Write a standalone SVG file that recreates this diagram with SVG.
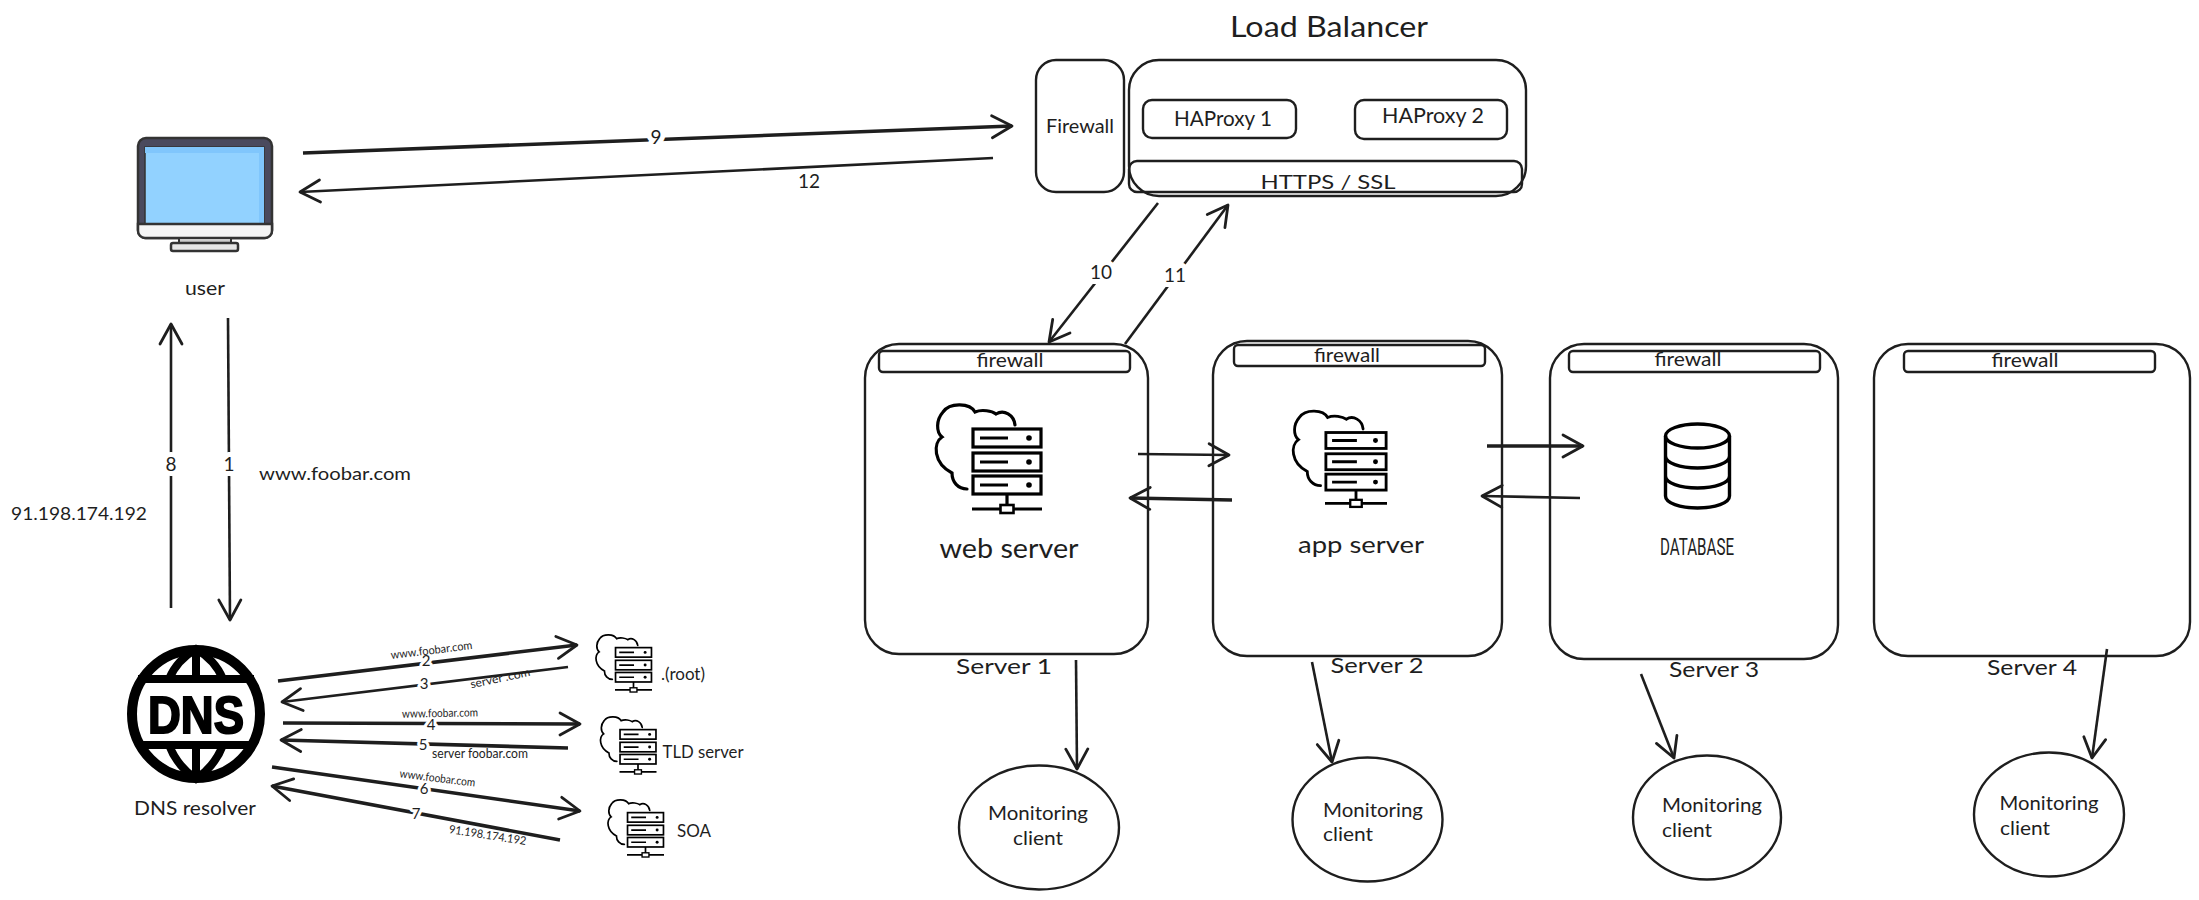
<svg xmlns="http://www.w3.org/2000/svg" width="2199" height="900" viewBox="0 0 2199 900">
<style>
text{font-family:"Lato","Noto Sans","Liberation Sans",sans-serif;fill:#1e1e1e;text-anchor:middle}
.box{fill:none;stroke:#1e1e1e;stroke-width:2.4}
.c{fill:none;stroke:#1e1e1e;stroke-width:2.6;marker-end:url(#a)}
.t{stroke:#1e1e1e;stroke-width:3.6;fill:none;marker-end:url(#a)}
.n{font-size:19px;paint-order:stroke;stroke:#fff;stroke-width:10px;stroke-linejoin:round}
.s{font-size:11.5px}
.m{font-size:20px}
.f{font-size:19px}
.ic{fill:none;stroke:#000;stroke-width:3.2}
</style>
<defs>
<marker id="a" markerUnits="userSpaceOnUse" markerWidth="40" markerHeight="40" refX="24" refY="20" orient="auto" viewBox="0 0 40 40">
<path d="M4,9 L24,20 L4,31" fill="none" stroke="#1e1e1e" stroke-width="2.8" stroke-linecap="round" stroke-linejoin="round"/>
</marker>
<symbol id="srv" overflow="visible" viewBox="0 0 70 81" width="70" height="81">
<path class="ic" stroke-linecap="round" d="M43,-3 C42,-13 32,-19 24,-14 C20,-17 10,-19 3,-16 C-2,-25 -22,-26 -29,-16 C-36,-8 -36,4 -30,9 C-39,15 -39,35 -20,45 C-20,54 -14,61 -5,61"/>
<rect class="ic" x="1" y="1" width="68" height="18"/><rect class="ic" x="1" y="25" width="68" height="18"/><rect class="ic" x="1" y="48" width="68" height="18"/>
<path class="ic" d="M8,10H36M8,34H36M8,57H36M35,66V81M0,81H70"/>
<circle cx="57" cy="10" r="2.8"/><circle cx="57" cy="34" r="2.8"/><circle cx="57" cy="57" r="2.8"/>
<rect x="28.500" y="77" width="13" height="8" fill="#fff" stroke="#000" stroke-width="2.600"/>
</symbol>
</defs>
<rect width="2199" height="900" fill="#fff"/>

<g id="user">
<rect x="138" y="138" width="134" height="100" rx="8" fill="#4a4a5e" stroke="#333" stroke-width="2.500"/>
<rect x="145" y="147" width="119" height="77" fill="#92d2ff" stroke="#333" stroke-width="1.500"/>
<path d="M259,147H264V223H259ZM145,147H259V153H145Z" fill="#80c6fc"/>
<path d="M138,224H272V231a7,7 0 0 1 -7,7H145a7,7 0 0 1 -7,-7Z" fill="#f5f5f5" stroke="#333" stroke-width="2.500"/>
<rect x="179" y="238" width="52" height="5" fill="#ccc" stroke="#333" stroke-width="2"/>
<rect x="171" y="243" width="67" height="8" rx="2" fill="#e6e6e6" stroke="#333" stroke-width="2.500"/>
<text x="205" y="295" font-size="20" textLength="40" lengthAdjust="spacingAndGlyphs">user</text>
</g>

<g id="dns-resolver">
<circle cx="196" cy="714" r="64" fill="#fff" stroke="#000" stroke-width="10"/>
<path d="M138,679H254M138,745H254M196,649V679M196,745V779M169,679Q177,660 196,649Q215,660 223,679M169,745Q177,766 196,779Q215,766 223,745" fill="none" stroke="#000" stroke-width="8"/>
<text x="196" y="733" font-size="52" font-weight="700" style="font-family:'Liberation Sans',sans-serif;fill:#000;stroke:#000;stroke-width:2px" textLength="96" lengthAdjust="spacingAndGlyphs">DNS</text>
<text x="195" y="815" font-size="20" textLength="122" lengthAdjust="spacingAndGlyphs">DNS resolver</text>
</g>

<g id="root-server"><use href="#srv" x="615" y="647" width="37" height="43"/><text x="683" y="680" font-size="17">.(root)</text></g>
<g id="tld-server"><use href="#srv" x="619.500" y="729" width="37" height="43"/><text x="703" y="758" font-size="17" textLength="81" lengthAdjust="spacingAndGlyphs">TLD server</text></g>
<g id="soa-server"><use href="#srv" x="627" y="812" width="37" height="43"/><text x="694" y="837" font-size="17">SOA</text></g>

<g id="load-balancer">
<text x="1329" y="37" font-size="29" textLength="198" lengthAdjust="spacingAndGlyphs">Load Balancer</text>
<rect class="box" x="1129" y="60" width="397" height="136" rx="30"/>
<rect class="box" x="1143" y="100" width="153" height="38" rx="9"/>
<text x="1223" y="126" font-size="21" textLength="98" lengthAdjust="spacingAndGlyphs">HAProxy 1</text>
<rect class="box" x="1355" y="100" width="152" height="39" rx="9"/>
<text x="1433" y="123" font-size="21" textLength="102" lengthAdjust="spacingAndGlyphs">HAProxy 2</text>
<rect class="box" x="1129" y="161" width="393" height="31" rx="8"/>
<text x="1328" y="189" font-size="20" textLength="135" lengthAdjust="spacingAndGlyphs">HTTPS / SSL</text>
</g>
<g id="firewall"><rect class="box" x="1036" y="60" width="88" height="132" rx="20"/><text x="1080" y="133" font-size="19" textLength="68" lengthAdjust="spacingAndGlyphs">Firewall</text></g>

<g id="server-1">
<rect class="box" x="865" y="344" width="283" height="310" rx="34"/>
<rect class="box" x="879" y="351" width="251" height="21" rx="4"/>
<text class="f" x="1010" y="367" textLength="67" lengthAdjust="spacingAndGlyphs">firewall</text>
<use href="#srv" x="972" y="428" width="70" height="81"/>
<text x="1009" y="558" font-size="26" textLength="139" lengthAdjust="spacingAndGlyphs">web server</text>
<text x="1004" y="674" font-size="22" textLength="96" lengthAdjust="spacingAndGlyphs">Server 1</text>
</g>
<g id="server-2">
<rect class="box" x="1213" y="341" width="289" height="315" rx="34"/>
<rect class="box" x="1234" y="345" width="251" height="21" rx="4"/>
<text class="f" x="1347" y="362" textLength="66" lengthAdjust="spacingAndGlyphs">firewall</text>
<use href="#srv" x="1325" y="431" width="62" height="73"/>
<text x="1361" y="553" font-size="24" textLength="126" lengthAdjust="spacingAndGlyphs">app server</text>
<text x="1377" y="673" font-size="22" textLength="93" lengthAdjust="spacingAndGlyphs">Server 2</text>
</g>
<g id="server-3">
<rect class="box" x="1550" y="344" width="288" height="315" rx="34"/>
<rect class="box" x="1569" y="351" width="251" height="21" rx="4"/>
<text class="f" x="1688" y="366" textLength="67" lengthAdjust="spacingAndGlyphs">firewall</text>
<g fill="none" stroke="#000" stroke-width="3.400">
<ellipse cx="1697.500" cy="436" rx="32" ry="12"/>
<path d="M1665.500,436V496C1665.500,503 1680,508 1697.500,508C1715,508 1729.500,503 1729.500,496V436M1665.500,456C1665.500,463 1680,468 1697.500,468C1715,468 1729.500,463 1729.500,456M1665.500,476C1665.500,483 1680,488 1697.500,488C1715,488 1729.500,483 1729.500,476"/>
</g>
<text x="1697" y="555" font-size="23" style="font-family:'Roboto',sans-serif" textLength="74" lengthAdjust="spacingAndGlyphs">DATABASE</text>
<text x="1714" y="677" font-size="22" textLength="90" lengthAdjust="spacingAndGlyphs">Server 3</text>
</g>
<g id="server-4">
<rect class="box" x="1874" y="344" width="316" height="312" rx="34"/>
<rect class="box" x="1904" y="351" width="251" height="21" rx="4"/>
<text class="f" x="2025" y="367" textLength="67" lengthAdjust="spacingAndGlyphs">firewall</text>
<text x="2032" y="675" font-size="22" textLength="90" lengthAdjust="spacingAndGlyphs">Server 4</text>
</g>

<g id="monitoring-1"><ellipse class="box" cx="1039" cy="827.500" rx="80" ry="62" stroke-width="3"/><text class="m" x="1038" y="820" textLength="100" lengthAdjust="spacingAndGlyphs">Monitoring</text><text class="m" x="1038" y="845" textLength="50" lengthAdjust="spacingAndGlyphs">client</text></g>
<g id="monitoring-2"><ellipse class="box" cx="1367.500" cy="819.500" rx="75" ry="62"/><text class="m" x="1373" y="817" textLength="100" lengthAdjust="spacingAndGlyphs">Monitoring</text><text class="m" x="1348" y="841" textLength="50" lengthAdjust="spacingAndGlyphs">client</text></g>
<g id="monitoring-3"><ellipse class="box" cx="1707" cy="817.500" rx="74" ry="62"/><text class="m" x="1712" y="812" textLength="100" lengthAdjust="spacingAndGlyphs">Monitoring</text><text class="m" x="1687" y="837" textLength="50" lengthAdjust="spacingAndGlyphs">client</text></g>
<g id="monitoring-4"><ellipse class="box" cx="2049" cy="814.500" rx="75" ry="62"/><text class="m" x="2049" y="810" textLength="99" lengthAdjust="spacingAndGlyphs">Monitoring</text><text class="m" x="2025" y="835" textLength="50" lengthAdjust="spacingAndGlyphs">client</text></g>

<g id="connectors">
<path class="t" d="M303,153L1012,126"/>
<text class="n" x="656" y="144">9</text>
<path class="c" d="M993,158L300,192"/>
<text x="809" y="188" font-size="19">12</text>
<path class="c" d="M1158,203L1049,342"/>
<text class="n" x="1101" y="279">10</text>
<path class="c" d="M1125,344L1228,205"/>
<text class="n" x="1175" y="282">11</text>

<path class="c" d="M171,608V324"/>
<text class="n" x="171" y="471">8</text>
<path class="c" d="M228,318L230,620"/>
<text class="n" x="229" y="471">1</text>
<text x="335" y="480" font-size="16.500" textLength="152" lengthAdjust="spacingAndGlyphs">www.foobar.com</text>
<text x="79" y="520" font-size="18" textLength="136" lengthAdjust="spacingAndGlyphs">91.198.174.192</text>

<path class="t" d="M278,681L577,645"/>
<text class="n" x="426" y="666" style="font-size:15px;stroke-width:6px">2</text>
<path class="c" d="M568,667L282,702"/>
<text class="n" x="424" y="689" style="font-size:15px;stroke-width:6px">3</text>
<path class="t" d="M283,723L580,724"/>
<text class="n" x="431" y="730" style="font-size:15px;stroke-width:6px">4</text>
<path class="t" d="M568,748L281,740"/>
<text class="n" x="423" y="750" style="font-size:15px;stroke-width:6px">5</text>
<path class="t" d="M272,767L580,811"/>
<text class="n" x="424" y="794" style="font-size:15px;stroke-width:6px">6</text>
<path class="t" d="M560,840L272,786"/>
<text class="n" x="416" y="819" style="font-size:15px;stroke-width:6px">7</text>
<text class="s" transform="translate(432,654) rotate(-7)" textLength="82" lengthAdjust="spacingAndGlyphs">www.foobar.com</text>
<text class="s" transform="translate(501,682) rotate(-12)" textLength="61" lengthAdjust="spacingAndGlyphs">server .com</text>
<text class="s" transform="translate(440,717) rotate(-1)" textLength="76" lengthAdjust="spacingAndGlyphs">www.foobar.com</text>
<text x="480" y="758" font-size="13" textLength="96" lengthAdjust="spacingAndGlyphs">server foobar.com</text>
<text class="s" transform="translate(437,782) rotate(7)" textLength="76" lengthAdjust="spacingAndGlyphs">www.foobar.com</text>
<text class="s" transform="translate(487,839) rotate(9)" textLength="78" lengthAdjust="spacingAndGlyphs">91.198.174.192</text>

<path class="c" d="M1138,454L1229,455"/>
<path class="t" d="M1232,500L1130,498"/>
<path class="t" d="M1487,446H1583"/>
<path class="c" d="M1580,498L1482,496"/>

<path class="c" d="M1076,660L1077,769"/>
<path class="c" d="M1312,662L1332,762"/>
<path class="c" d="M1641,674L1674,758"/>
<path class="c" d="M2107,649L2092,758"/>
</g>
</svg>
